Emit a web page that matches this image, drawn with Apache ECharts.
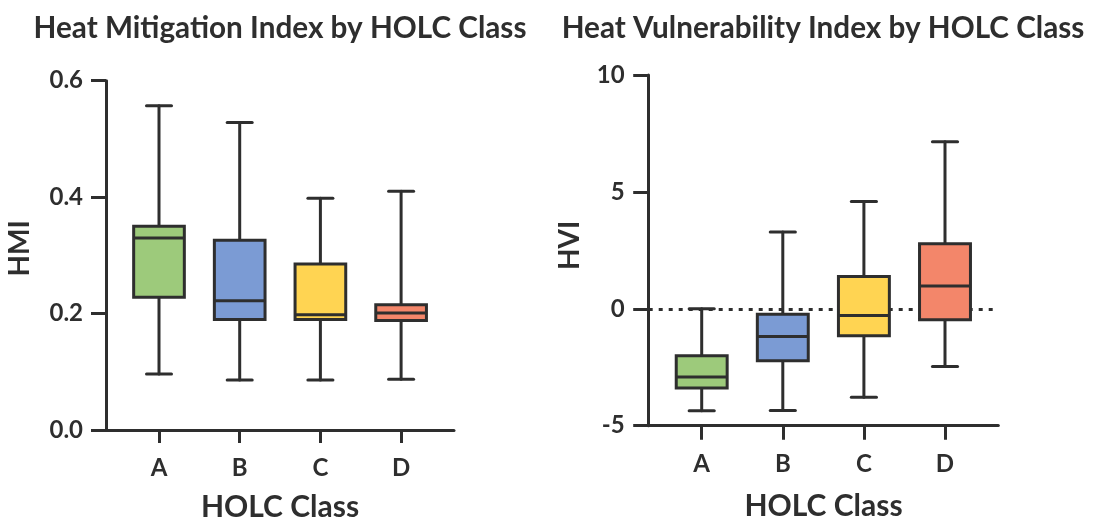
<!DOCTYPE html>
<html>
<head>
<meta charset="utf-8">
<script src="https://cdn.jsdelivr.net/npm/echarts@6/dist/echarts.min.js"></script>
<style>
html,body{margin:0;padding:0;background:#fff;}
#c{width:1094px;height:521px;}
</style>
</head>
<body>
<div id="c"></div>
<script>
// ---- data ----
const categories = ['A', 'B', 'C', 'D'];
const boxColors = ['#9DCA7B', '#7B9BD4', '#FFD452', '#F3866A'];

const hmiMin = [0.096, 0.086, 0.086, 0.087];
const hmiQ1  = [0.228, 0.190, 0.190, 0.188];
const hmiMed = [0.330, 0.222, 0.198, 0.201];
const hmiQ3  = [0.350, 0.326, 0.285, 0.215];
const hmiMax = [0.557, 0.528, 0.398, 0.410];
const hmiTicks = [0.0, 0.2, 0.4, 0.6];

const hviMin = [-4.36, -4.35, -3.78, -2.47];
const hviQ1  = [-3.39, -2.22, -1.15, -0.47];
const hviMed = [-2.92, -1.18, -0.29, 0.98];
const hviQ3  = [-2.01, -0.23, 1.38, 2.78];
const hviMax = [0.00, 3.28, 4.59, 7.15];
const hviTicks = [-5, 0, 5, 10];

const leftTitle = 'Heat Mitigation Index by HOLC Class';
const rightTitle = 'Heat Vulnerability Index by HOLC Class';
const xName = 'HOLC Class';

// ---- build ----
const INK = '#2e2e2e';
const FONT = 'Lato';

function rows(mn, q1, md, q3, mx) {
  return categories.map((c, i) => [i, mn[i], q1[i], md[i], q3[i], mx[i]]);
}

function renderBox(params, api) {
  const x = api.value(0);
  const pMin = api.coord([x, api.value(1)]);
  const pQ1 = api.coord([x, api.value(2)]);
  const pMed = api.coord([x, api.value(3)]);
  const pQ3 = api.coord([x, api.value(4)]);
  const pMax = api.coord([x, api.value(5)]);
  const band = api.size([1, 0])[0];
  const bw = band * 0.628;
  const cw = band * 0.31;
  const cx = pMin[0];
  const ls = {stroke: INK, lineWidth: 3, lineCap: 'round'};
  return {
    type: 'group',
    children: [
      {type: 'line', shape: {x1: cx, y1: pMax[1], x2: cx, y2: pQ3[1]}, style: ls},
      {type: 'line', shape: {x1: cx, y1: pQ1[1], x2: cx, y2: pMin[1]}, style: ls},
      {type: 'line', shape: {x1: cx - cw / 2, y1: pMax[1], x2: cx + cw / 2, y2: pMax[1]}, style: ls},
      {type: 'line', shape: {x1: cx - cw / 2, y1: pMin[1], x2: cx + cw / 2, y2: pMin[1]}, style: ls},
      {type: 'rect', shape: {x: cx - bw / 2, y: pQ3[1], width: bw, height: pQ1[1] - pQ3[1]},
        style: {fill: boxColors[params.dataIndex], stroke: INK, lineWidth: 3}},
      {type: 'line', shape: {x1: cx - bw / 2, y1: pMed[1], x2: cx + bw / 2, y2: pMed[1]},
        style: {stroke: INK, lineWidth: 3}}
    ]
  };
}

const axisLineStyle = {show: true, onZero: false, lineStyle: {color: INK, width: 3}};
const labelStyle = {color: INK, fontFamily: FONT, fontWeight: 'bold', fontSize: 24};
const nameStyle = {color: INK, fontFamily: FONT, fontWeight: 'bold', fontSize: 30};
const titleStyle = {color: INK, fontFamily: FONT, fontWeight: 'bold', fontSize: 29.7};

const L = {left: 106, top: 80.7, width: 348, height: 349.3};
const Lb = {left: 118.65, top: 80.7, width: 322.8, height: 349.3};
const R = {left: 648.7, top: 75, width: 349.6, height: 350.7};
const Rb = {left: 661.15, top: 75, width: 324.4, height: 350.7};
const gridBase = {containLabel: false, outerBoundsMode: 'none'};

const option = {
  animation: false,
  backgroundColor: '#fff',
  title: [
    {text: leftTitle, left: 275, top: 8, textAlign: 'center', textStyle: titleStyle},
    {text: rightTitle, left: 818, top: 8, textAlign: 'center', textStyle: titleStyle}
  ],
  grid: [
    Object.assign({}, gridBase, L),
    Object.assign({}, gridBase, Lb),
    Object.assign({}, gridBase, R),
    Object.assign({}, gridBase, Rb)
  ],
  xAxis: [
    {gridIndex: 0, type: 'value', min: 0, max: 1, axisLine: axisLineStyle,
     axisTick: {show: false}, axisLabel: {show: false}, splitLine: {show: false},
     name: xName, nameLocation: 'middle', nameGap: 62, nameTextStyle: nameStyle},
    {gridIndex: 1, type: 'category', data: categories, boundaryGap: true, axisLine: axisLineStyle,
     axisTick: {show: true, alignWithLabel: true, length: 13, lineStyle: {color: INK, width: 3}},
     axisLabel: Object.assign({margin: 26}, labelStyle), splitLine: {show: false}},
    {gridIndex: 2, type: 'value', min: 0, max: 1, axisLine: axisLineStyle,
     axisTick: {show: false}, axisLabel: {show: false}, splitLine: {show: false},
     name: xName, nameLocation: 'middle', nameGap: 66, nameTextStyle: nameStyle},
    {gridIndex: 3, type: 'category', data: categories, boundaryGap: true, axisLine: axisLineStyle,
     axisTick: {show: true, alignWithLabel: true, length: 14, lineStyle: {color: INK, width: 3}},
     axisLabel: Object.assign({margin: 27}, labelStyle), splitLine: {show: false}}
  ],
  yAxis: [
    {gridIndex: 0, type: 'value', min: hmiTicks[0], max: hmiTicks[hmiTicks.length - 1], interval: hmiTicks[1] - hmiTicks[0],
     axisLine: axisLineStyle,
     axisTick: {show: true, length: 15, lineStyle: {color: INK, width: 3}},
     axisLabel: Object.assign({margin: 23, formatter: v => v.toFixed(1)}, labelStyle),
     splitLine: {show: false},
     name: 'HMI', nameLocation: 'middle', nameGap: 72,
     nameTextStyle: Object.assign({}, nameStyle, {fontSize: 28, padding: [0, 0, 0, 14]})},
    {gridIndex: 1, type: 'value', min: hmiTicks[0], max: hmiTicks[hmiTicks.length - 1], show: false},
    {gridIndex: 2, type: 'value', min: hviTicks[0], max: hviTicks[hviTicks.length - 1], interval: hviTicks[1] - hviTicks[0],
     axisLine: axisLineStyle,
     axisTick: {show: true, length: 15.5, lineStyle: {color: INK, width: 3}},
     axisLabel: Object.assign({margin: 24}, labelStyle),
     splitLine: {show: false},
     name: 'HVI', nameLocation: 'middle', nameGap: 65,
     nameTextStyle: Object.assign({}, nameStyle, {fontSize: 28, padding: [0, 0, 0, 10]})},
    {gridIndex: 3, type: 'value', min: hviTicks[0], max: hviTicks[hviTicks.length - 1], show: false}
  ],
  series: [
    {type: 'custom', xAxisIndex: 1, yAxisIndex: 1, z: 5,
     encode: {x: 0, y: [1, 2, 3, 4, 5]},
     renderItem: renderBox, data: rows(hmiMin, hmiQ1, hmiMed, hmiQ3, hmiMax)},
    {type: 'line', xAxisIndex: 2, yAxisIndex: 2, z: 1, data: [],
     markLine: {silent: true, symbol: 'none', label: {show: false},
       lineStyle: {color: INK, width: 3, type: [4, 6], cap: 'butt'},
       data: [{yAxis: 0}]}},
    {type: 'custom', xAxisIndex: 3, yAxisIndex: 3, z: 5,
     encode: {x: 0, y: [1, 2, 3, 4, 5]},
     renderItem: renderBox, data: rows(hviMin, hviQ1, hviMed, hviQ3, hviMax)}
  ]
};

const chart = echarts.init(document.getElementById('c'), null, {renderer: 'canvas'});
chart.setOption(option);
</script>
</body>
</html>
